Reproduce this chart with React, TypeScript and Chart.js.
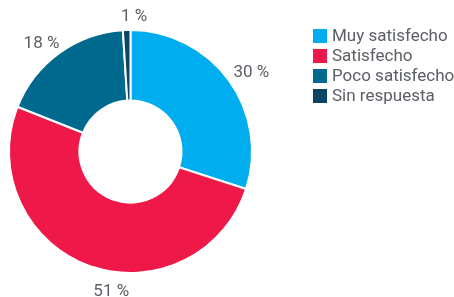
import React, { useEffect, useRef } from "react";
import { Chart, registerables } from "chart.js";

Chart.register(...registerables);

const categories = ["Muy satisfecho", "Satisfecho", "Poco satisfecho", "Sin respuesta"];
const values = [30, 51, 18, 1];
const valueLabels = ["30 %", "51 %", "18 %", "1 %"];
const colors = ["#00AEEF", "#EE1948", "#006A8E", "#0C4664"];

const TEXT_COLOR = "#5c6066";
const FONT = "17px Roboto";

// fine nudges of the outside labels relative to their computed anchor
const labelNudges = [
  { dx: 8, dy: 3 },
  { dx: 28, dy: 9 },
  { dx: -7, dy: 5 },
  { dx: 8, dy: 5 },
];

const outsideLabels = {
  id: "outsideLabels",
  afterDatasetsDraw(chart: any) {
    const ctx = chart.ctx;
    const meta = chart.getDatasetMeta(0);
    ctx.save();
    ctx.font = FONT;
    ctx.fillStyle = TEXT_COLOR;
    ctx.textAlign = "center";
    ctx.textBaseline = "middle";
    meta.data.forEach((arc: any, i: number) => {
      const { x, y, startAngle, endAngle, outerRadius } = arc.getProps(
        ["x", "y", "startAngle", "endAngle", "outerRadius"],
        true
      );
      const mid = (startAngle + endAngle) / 2;
      const r = outerRadius + 18;
      const n = labelNudges[i] || { dx: 0, dy: 0 };
      ctx.fillText(valueLabels[i], x + Math.cos(mid) * r + n.dx, y + Math.sin(mid) * r + n.dy);
    });
    ctx.restore();
  },
};

const sideLegend = {
  id: "sideLegend",
  afterDraw(chart: any) {
    const ctx = chart.ctx;
    const left = 313;
    const top = 36;
    const step = 20;
    const box = 14;
    ctx.save();
    ctx.font = FONT;
    ctx.textAlign = "left";
    ctx.textBaseline = "middle";
    categories.forEach((c, i) => {
      const cy = top + i * step;
      ctx.fillStyle = colors[i];
      ctx.fillRect(left, cy - box / 2, box, box);
      ctx.fillStyle = TEXT_COLOR;
      ctx.fillText(c, left + 19, cy + 1);
    });
    ctx.restore();
  },
};

export default function App() {
  const ref = useRef<HTMLCanvasElement>(null);
  useEffect(() => {
    document.body.style.margin = "0";
    const chart = new Chart(ref.current as HTMLCanvasElement, {
      type: "doughnut",
      data: {
        labels: categories,
        datasets: [
          {
            data: values,
            backgroundColor: colors,
            borderColor: "#ffffff",
            borderWidth: 2,
            hoverOffset: 0,
          },
        ],
      },
      options: {
        responsive: false,
        animation: false,
        cutout: "42%",
        layout: { padding: { left: 8, top: 29, right: 201, bottom: 23 } },
        plugins: {
          legend: { display: false },
          tooltip: { enabled: false },
        },
      },
      plugins: [outsideLabels, sideLegend],
    });
    return () => chart.destroy();
  }, []);
  return (
    <div style={{ width: 454, height: 297, position: "relative" }}>
      <canvas ref={ref} width={454} height={297} />
    </div>
  );
}
